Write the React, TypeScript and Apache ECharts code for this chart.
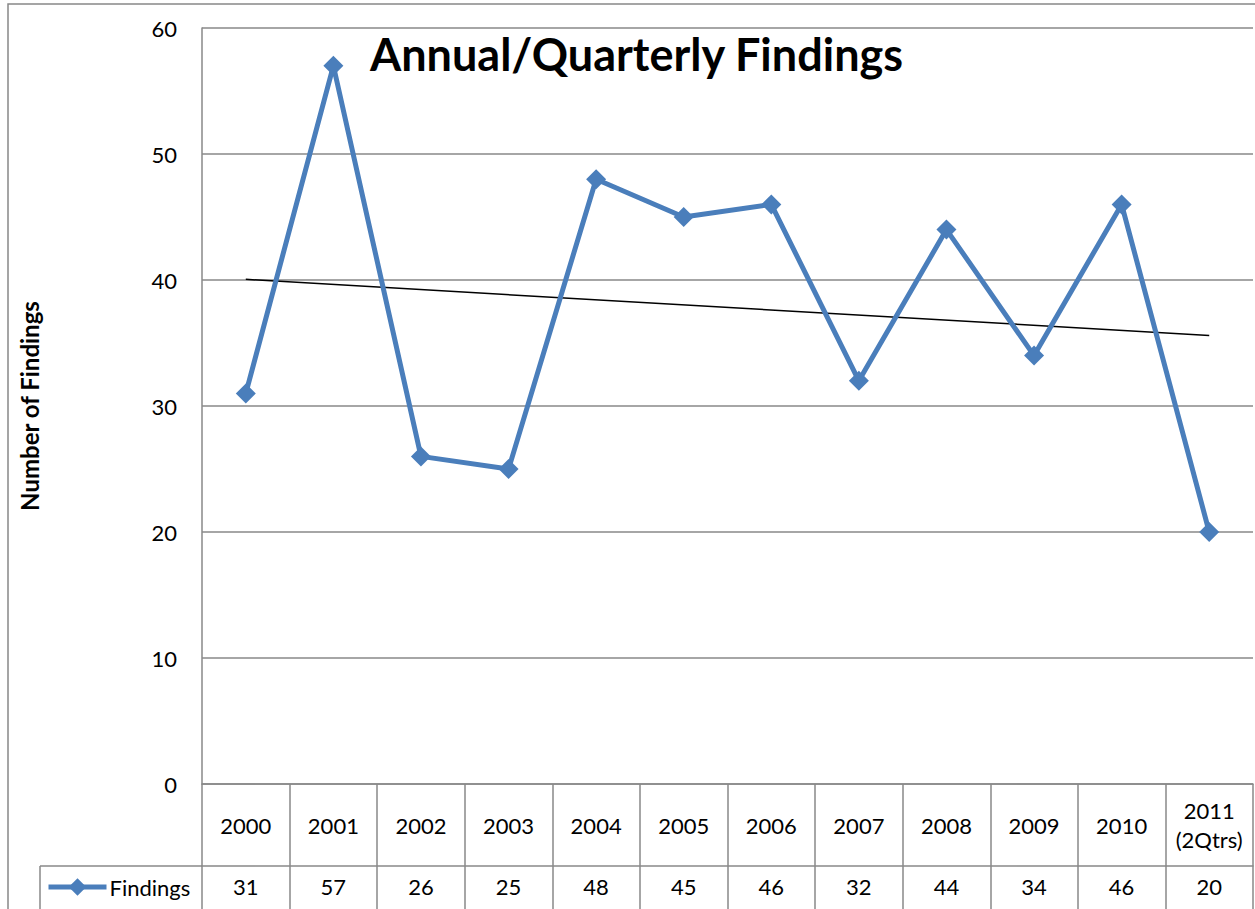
import React, { useEffect, useRef } from "react";
import * as echarts from "echarts";

const categories = ["2000", "2001", "2002", "2003", "2004", "2005", "2006", "2007", "2008", "2009", "2010", "2011\n(2Qtrs)"];
const findings = [31, 57, 26, 25, 48, 45, 46, 32, 44, 34, 46, 20];
// linear trendline endpoints (first and last category)
const trendStart = 40.05;
const trendEnd = 35.6;
const yTicks = [0, 10, 20, 30, 40, 50, 60];

const FONT = "Lato, 'Open Sans', sans-serif";
const GRID_GRAY = "#888888";
const BLUE = "#4A7EBB";

export default function App() {
  const ref = useRef<HTMLDivElement>(null);
  useEffect(() => {
    if (!ref.current) return;
    const chart = echarts.init(ref.current, undefined, { renderer: "svg" });
    const trend = categories.map((_, i) => (i === 0 ? trendStart : i === categories.length - 1 ? trendEnd : null));
    chart.setOption({
      animation: false,
      backgroundColor: "#ffffff",
      textStyle: { fontFamily: FONT },
      title: {
        text: "Annual/Quarterly Findings",
        left: 365,
        top: 26,
        textStyle: { fontFamily: FONT, fontSize: 45, fontWeight: "bold", color: "#000" },
      },
      legend: {
        data: ["Findings"],
        left: 41,
        top: 871,
        itemWidth: 58,
        itemHeight: 22,
        itemGap: 0,
        lineStyle: { width: 5 },
        textStyle: { fontFamily: FONT, fontSize: 22, color: "#000", padding: [0, 0, 0, -2] },
      },
      grid: { left: 202, right: 2, top: 28, bottom: 125, containLabel: false },
      xAxis: [
        {
          type: "category",
          data: categories,
          boundaryGap: true,
          position: "bottom",
          axisLine: { show: true, lineStyle: { color: GRID_GRAY, width: 1.5 } },
          axisTick: { show: true, interval: 0, length: 125, lineStyle: { color: GRID_GRAY, width: 1.5 } },
          axisLabel: {
            interval: 0,
            fontFamily: FONT,
            fontSize: 22,
            color: "#000",
            verticalAlign: "middle",
            margin: 41,
            lineHeight: 29,
          },
        },
        {
          type: "category",
          data: categories,
          boundaryGap: true,
          position: "bottom",
          offset: 82,
          axisLine: { show: true, lineStyle: { color: GRID_GRAY, width: 1.5 } },
          axisTick: { show: false },
          axisLabel: {
            interval: 0,
            fontFamily: FONT,
            fontSize: 22,
            color: "#000",
            verticalAlign: "middle",
            margin: 20,
            formatter: (_: string, i: number) => String(findings[i]),
          },
        },
      ],
      yAxis: {
        type: "value",
        min: yTicks[0],
        max: yTicks[yTicks.length - 1],
        interval: 10,
        name: "Number of Findings",
        nameLocation: "middle",
        nameRotate: 90,
        nameGap: 161,
        nameTextStyle: { fontFamily: FONT, fontSize: 24, fontWeight: "bold", color: "#000" },
        axisLine: { show: true, lineStyle: { color: GRID_GRAY, width: 1.5 } },
        axisTick: { show: false },
        axisLabel: { fontFamily: FONT, fontSize: 22, color: "#000", margin: 25 },
        splitLine: { show: true, lineStyle: { color: GRID_GRAY, width: 1.5 } },
      },
      graphic: [
        {
          type: "rect",
          shape: { x: 8, y: 4, width: 1300, height: 960 },
          style: { fill: "none", stroke: GRID_GRAY, lineWidth: 1.5 },
          silent: true,
        },
        {
          type: "line",
          shape: { x1: 40, y1: 866, x2: 202, y2: 866 },
          style: { stroke: GRID_GRAY, lineWidth: 1.5 },
          silent: true,
        },
        {
          type: "line",
          shape: { x1: 40, y1: 866, x2: 40, y2: 920 },
          style: { stroke: GRID_GRAY, lineWidth: 1.5 },
          silent: true,
        },
      ],
      series: [
        {
          name: "Trend",
          type: "line",
          data: trend,
          connectNulls: true,
          symbol: "none",
          lineStyle: { color: "#000", width: 1.5 },
          z: 1,
          silent: true,
        },
        {
          name: "Findings",
          type: "line",
          data: findings,
          symbol: "diamond",
          symbolSize: 20,
          itemStyle: { color: BLUE },
          lineStyle: { color: BLUE, width: 5 },
          z: 2,
        },
      ],
    });
    return () => chart.dispose();
  }, []);
  return <div ref={ref} style={{ position: "fixed", left: 0, top: 0, width: 1255, height: 909 }} />;
}
